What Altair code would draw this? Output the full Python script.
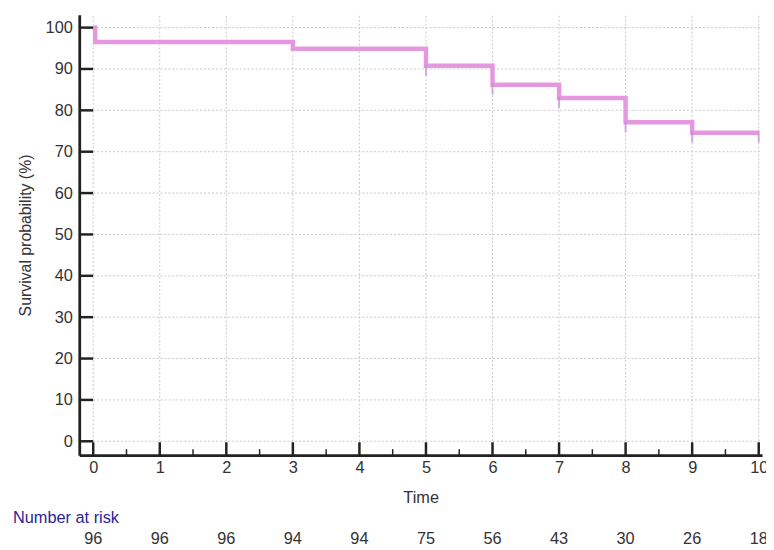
import altair as alt
import pandas as pd

# Kaplan-Meier step data
times = [0, 0.03, 3, 5, 6, 7, 8, 9, 10]
survival = [100, 96.5, 94.9, 90.8, 86.2, 83.0, 77.1, 74.6, 74.6]

# censor marks
censor_times = [5, 6, 7, 8, 9, 10]
censor_surv = [90.8, 86.2, 83.0, 77.1, 74.6, 74.6]

# axes ticks
x_ticks = [0, 1, 2, 3, 4, 5, 6, 7, 8, 9, 10]
x_minor = [0.5, 1.5, 2.5, 3.5, 4.5, 5.5, 6.5, 7.5, 8.5, 9.5]
y_ticks = [0, 10, 20, 30, 40, 50, 60, 70, 80, 90, 100]

# number at risk
risk_times = [0, 1, 2, 3, 4, 5, 6, 7, 8, 9, 10]
risk_counts = [96, 96, 96, 94, 94, 75, 56, 43, 30, 26, 18]

W, H = 690, 445
FONT = "Liberation Sans"
FS = 16.5

xs = alt.Scale(domain=[-0.21, 10.05], nice=False, zero=False)
ys = alt.Scale(domain=[-3.35, 103.1], nice=False, zero=False)

km = pd.DataFrame({"t": times, "s": survival})
cens = pd.DataFrame({"t": censor_times, "s": censor_surv})
xt = pd.DataFrame({"t": x_ticks, "zero": [0] * len(x_ticks)})
xm = pd.DataFrame({"t": x_minor})
yt = pd.DataFrame({"v": y_ticks, "zero": [0] * len(y_ticks)})
risk = pd.DataFrame({"t": risk_times, "n": [str(c) for c in risk_counts]})

grid_color = "#c8c8c8"

x_axis = alt.Axis(values=x_ticks, ticks=False, grid=False, domain=True,
                  domainColor="#222222", domainWidth=2.8,
                  labelFont=FONT, labelFontSize=FS, labelColor="#333333",
                  labelPadding=5, title="Time", titleFont=FONT,
                  titleFontSize=FS, titleFontWeight="normal",
                  titleColor="#333333", titlePadding=13)
y_axis = alt.Axis(values=y_ticks, ticks=False, grid=False, domain=True,
                  domainColor="#222222", domainWidth=2.8,
                  labelFont=FONT, labelFontSize=FS, labelColor="#333333",
                  labelPadding=7, title="Survival probability (%)",
                  titleFont=FONT, titleFontSize=16, titleFontWeight="normal",
                  titleColor="#333333", titlePadding=12)


def X(f):
    return alt.X(f, scale=xs, axis=x_axis)


def Y(f):
    return alt.Y(f, scale=ys, axis=y_axis)


line = alt.Chart(km).mark_line(interpolate="step-after", color="#e598df", strokeWidth=4.5).encode(
    x=X("t:Q"), y=Y("s:Q"),
)

vgrid = alt.Chart(xt).mark_rule(color=grid_color, strokeDash=[2, 2], strokeWidth=1).encode(
    x=X("t:Q"), y=Y("zero:Q"), y2=alt.value(0),
)

hgrid = alt.Chart(yt).mark_rule(color=grid_color, strokeDash=[2, 2], strokeWidth=1).encode(
    y=Y("v:Q"), x=X("zero:Q"), x2=alt.value(W),
)

xtick_major = alt.Chart(xt).mark_rule(color="#222222", strokeWidth=2.5).encode(
    x=X("t:Q"), y=alt.value(H), y2=alt.value(H - 13)
)
xtick_minor = alt.Chart(xm).mark_rule(color="#222222", strokeWidth=1.5).encode(
    x=X("t:Q"), y=alt.value(H), y2=alt.value(H - 6)
)
ytick = alt.Chart(yt).mark_rule(color="#222222", strokeWidth=2.5).encode(
    y=Y("v:Q"), x=alt.value(0), x2=alt.value(14)
)

censor = alt.Chart(cens).mark_tick(orient="vertical", color="#c08ad8", thickness=2, size=12, yOffset=4).encode(
    x=X("t:Q"), y=Y("s:Q")
)

risk_label = alt.Chart(pd.DataFrame({"lab": ["Number at risk"]})).mark_text(
    font=FONT, fontSize=FS, color="#2c2598", align="left", baseline="middle"
).encode(text="lab:N", x=alt.value(-67), y=alt.value(H + 64))

risk_nums = alt.Chart(risk).mark_text(
    font=FONT, fontSize=FS, color="#333333", align="center", baseline="middle"
).encode(text="n:N", x=X("t:Q"), y=alt.value(H + 85))

chart = alt.layer(
    vgrid, hgrid, line, censor, xtick_major, xtick_minor, ytick, risk_label, risk_nums
).properties(
    width=W, height=H,
    autosize=alt.AutoSizeParams(type="none"),
    padding={"left": 72, "top": 4, "right": 4, "bottom": 92},
).configure(background="white", view=alt.ViewConfig(stroke=None))

chart.save("out.html", embed_options={"renderer": "svg", "actions": False})
